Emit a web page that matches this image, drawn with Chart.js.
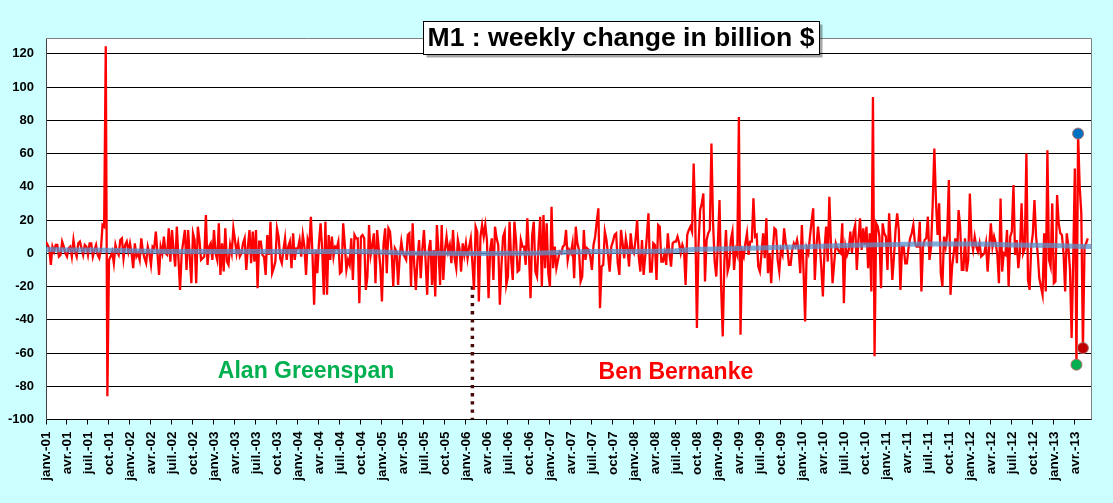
<!DOCTYPE html>
<html><head><meta charset="utf-8">
<script src="https://cdn.jsdelivr.net/npm/chart.js@4.4.1/dist/chart.umd.min.js"></script>
<style>html,body{margin:0;padding:0;background:#CCFFFF;overflow:hidden}canvas{display:block}</style>
</head><body>
<canvas id="c" width="1113" height="503"></canvas>
<script>
// ---- tick labels (one every 13 weeks) ----
const quarterLabels = [
 "janv.-01","avr.-01","juil.-01","oct.-01","janv.-02","avr.-02","juil.-02","oct.-02",
 "janv.-03","avr.-03","juil.-03","oct.-03","janv.-04","avr.-04","juil.-04","oct.-04",
 "janv.-05","avr.-05","juil.-05","oct.-05","janv.-06","avr.-06","juil.-06","oct.-06",
 "janv.-07","avr.-07","juil.-07","oct.-07","janv.-08","avr.-08","juil.-08","oct.-08",
 "janv.-09","avr.-09","juil.-09","oct.-09","janv.-10","avr.-10","juil.-10","oct.-10",
 "janv.-11","avr.-11","juil.-11","oct.-11","janv.-12","avr.-12","juil.-12","oct.-12",
 "janv.-13","avr.-13"];
const yTickValues = [-100,-80,-60,-40,-20,0,20,40,60,80,100,120];

// ---- weekly change of M1, billion $ (one value per week, from janv.-01) ----
const w2001 = [7,5,3,-7,4,1,5,5,-2,-1,7,4,0,-2,3,4,-2,8,1,-2,6,7,3,-1,5,4,-1,6,6,-2,2,5,-1,-3,2,17,16,124.5,-86,-4,-2,1,-6,5,1,-1,8,9,-3,5,7,1];
const w2002 = [6,0,-9,6,-2,0,-4,9,1,-3,-6,4,0,-7,4,3,13,0,-13,4,0,10,0,-1,15,-5,14,2,-8,16,-3,-22,0,7,14,-10,14,-2,-18,12,8,-18,16,8,-4,-3,-2,23,-7,4,6,-4];
const w2003 = [14,0,-4,18,-13,6,-11,15,-5,-7,5,0,15,8,0,6,-2,0,6,9,-10,4,14,-6,13,-5,14,-21,7,7,-1,-2,-13,11,-1,19,-12,-9,-5,15,10,-3,-6,2,9,-4,4,7,-9,12,-4,3];
const w2004 = [3,8,-2,11,4,-13,8,4,22,-1,-31,2,-12,6,18,2,-25,19,-25,11,-4,10,-2,4,3,7,-12,-11,18,5,-10,-4,-7,9,-16,11,9,9,-30,10,11,9,-22,-14,17,-1,5,12,-18,14,3,-8];
const w2005 = [-29,6,15,-12,15,13,1,-20,3,1,-19,-2,7,0,-2,-4,11,12,-20,18,-7,-22,-4,8,-15,2,14,-4,-25,2,8,-19,2,-26,17,2,-19,17,-16,2,10,1,5,-6,14,-3,-9,8,3,-11,6,-1];
const w2006 = [6,-3,4,9,-6,-22,16,13,-29,10,17,10,17,8,-27,2,9,-16,16,9,5,-31,-7,10,13,-19,-14,19,-4,-16,19,8,-11,-10,8,4,4,-7,21,0,-27,11,19,-11,-14,6,22,-20,23,-9,18,-12];
const w2007 = [-20,28,-9,4,-9,-4,1,0,4,5,14,-4,2,0,6,-15,16,6,2,-17,-14,14,-4,3,2,-2,-10,5,10,19,27,-33,-8,-7,13,8,-1,-11,4,7,11,12,-6,-13,14,6,-3,9,3,-8,12,2];
const w2008 = [0,8,20,-2,-11,8,-13,-2,10,24,-11,-11,6,5,-16,17,16,-5,-5,0,-7,12,0,-8,6,7,7,10,6,0,5,2,-19,11,14,16,13,54,19,-45,5,26,30,36,-17,8,12,14,66,18,-5,-14];
const w2009 = [6,32,-20,-50,-5,14,-11,-7,8,13,-10,2,-1,82,-49,1,-2,6,12,-1,7,7,33,10,11,-8,-11,0,12,-3,21,-12,0,-18,2,15,14,-4,-11,2,-1,15,6,3,-7,-7,2,6,4,8,2,-12];
const w2010 = [17,-10,-41,3,0,10,19,27,-16,4,16,6,-8,-26,2,16,-5,34,5,-18,-6,6,3,1,0,18,-30,4,-1,2,13,0,13,17,-10,8,21,2,15,5,16,-9,12,-23,94,-62,18,16,10,-21,18,12];
const w2011 = [10,-10,24,5,-16,-2,14,24,14,-22,4,4,-6,-6,3,9,12,17,6,4,4,19,-23,4,8,9,22,-4,4,30,63,32,11,30,-12,-20,10,4,12,44,-25,-8,0,9,-6,26,16,-10,-10,9,-11,-4];
const w2012 = [36,8,2,10,4,1,6,-2,-1,0,6,-11,4,18,4,10,6,-1,-18,33,-11,0,-1,14,-20,10,13,41,-1,8,-9,1,30,0,3,60,-16,-22,4,12,32,10,0,-15,-20,-25,12,-23,62,-4,-8,30];
const w2013 = [-18,-17,35,18,12,11,0,-23,12,4,-10,-51,-4,51,-67,72,40,24,-57,4,6,9];
const weeklyChange = [].concat(w2001,w2002,w2003,w2004,w2005,w2006,w2007,w2008,w2009,w2010,w2011,w2012,w2013);

// ---- smoothed trend (read every 13 weeks) ----
const trendWeeks = [0,13,26,39,52,65,78,91,104,117,130,143,156,169,182,195,208,221,234,247,260,273,286,299,312,325,338,351,364,377,390,403,416,429,442,455,468,481,494,507,520,533,546,559,572,585,598,611,624,637,647];
const trendValues = [2.2,2.0,2.0,1.8,1.5,1.2,1.0,1.0,1.0,1.0,1.0,1.0,1.0,1.0,1.0,1.0,0.8,0.2,0.0,0.0,-0.2,-0.2,0.0,0.0,0.3,0.8,1.0,1.0,1.0,1.2,1.5,2.4,2.6,2.8,3.2,3.6,3.8,4.2,4.6,5.0,5.2,5.5,5.6,5.6,5.6,5.4,5.0,4.8,4.6,4.2,4.0];

// ---- highlighted last weeks ----
const dotWeeks = [638, 639, 642];
const dotValues = [-67, 72, -57];

// ---- annotations ----
const titleText = "M1 : weekly change in billion $";
const bernankeWeek = 264;
const bernankeLine = [-20, -100];
const eraLabels = ["Alan Greenspan", "Ben Bernanke"];
const eraWeeks = [161, 390];
const eraValues = [-71, -72];

const FONT = "'Liberation Sans', Arial, sans-serif";
Chart.defaults.font.family = FONT;

const bgPlugin = {
  id: 'bg',
  beforeDraw(chart) {
    const c = chart.ctx, a = chart.chartArea;
    c.save();
    c.fillStyle = '#CCFFFF';
    c.fillRect(0, 0, chart.width, chart.height);
    c.fillStyle = '#FFFFFF';
    c.fillRect(a.left, a.top, a.right - a.left, a.bottom - a.top);
    c.restore();
  },
  afterDatasetsDraw(chart) {
    const c = chart.ctx, a = chart.chartArea;
    const xs = chart.scales.x, ys = chart.scales.y;
    c.save();
    c.strokeStyle = '#808080'; c.lineWidth = 1;
    c.beginPath();
    c.moveTo(a.left, Math.round(a.top) + 0.5);
    c.lineTo(Math.round(a.right) + 0.5, Math.round(a.top) + 0.5);
    c.lineTo(Math.round(a.right) + 0.5, a.bottom);
    c.stroke();
    c.font = 'bold 23px ' + FONT;
    c.textAlign = 'center'; c.textBaseline = 'middle';
    const cols = ['#00B050', '#FF0000'];
    eraLabels.forEach((t, i) => {
      c.fillStyle = cols[i];
      c.fillText(t, xs.getPixelForValue(eraWeeks[i]), ys.getPixelForValue(eraValues[i]));
    });
    c.restore();
  },
  afterDraw(chart) {
    const c = chart.ctx;
    c.save();
    const bx = 423.5, by = 21.5, bw = 396, bh = 33;
    c.fillStyle = 'rgba(0,0,0,0.35)';
    c.fillRect(bx + 3, by + 3, bw, bh);
    c.fillStyle = '#FFFFFF';
    c.fillRect(bx, by, bw, bh);
    c.strokeStyle = '#000'; c.lineWidth = 1;
    c.strokeRect(bx, by, bw, bh);
    let size = 26;
    c.font = 'bold ' + size + 'px ' + FONT;
    const w = c.measureText(titleText).width;
    size = size * 387 / w;
    c.font = 'bold ' + size.toFixed(2) + 'px ' + FONT;
    c.fillStyle = '#000';
    c.textAlign = 'left'; c.textBaseline = 'middle';
    c.fillText(titleText, 427.5, by + bh / 2 + 1);
    c.restore();
  }
};

new Chart(document.getElementById('c'), {
  type: 'line',
  data: {
    datasets: [
      {
        label: 'last weeks',
        data: dotWeeks.map((w, i) => ({x: w, y: dotValues[i]})),
        showLine: false,
        pointRadius: 5.5,
        pointBorderWidth: 1,
        pointBackgroundColor: ['#00B050', '#0070C0', '#C00000'],
        pointBorderColor: ['#B07070', '#B07070', '#B07070'],
        order: 0
      },
      {
        label: 'trend',
        data: trendWeeks.map((w, i) => ({x: w, y: trendValues[i]})),
        borderColor: 'rgba(86,146,206,0.75)',
        borderWidth: 5,
        pointRadius: 0,
        tension: 0,
        order: 1
      },
      {
        label: 'M1 weekly change',
        data: weeklyChange.map((v, i) => ({x: i, y: v})),
        borderColor: '#FF0000',
        borderWidth: 2.3,
        pointRadius: 0,
        tension: 0,
        order: 2
      },
      {
        label: 'Bernanke',
        data: bernankeLine.map(v => ({x: bernankeWeek, y: v})),
        borderColor: '#4B0A0A',
        borderWidth: 3.5,
        borderDash: [3.3, 4.9],
        borderCapStyle: 'butt',
        pointRadius: 0,
        order: 3
      }
    ]
  },
  options: {
    responsive: false,
    animation: false,
    devicePixelRatio: 1,
    layout: {padding: {top: 38, right: 22, left: 0, bottom: 0}},
    plugins: {legend: {display: false}, tooltip: {enabled: false}},
    scales: {
      x: {
        type: 'linear',
        min: 0,
        max: 647,
        afterBuildTicks: s => { s.ticks = quarterLabels.map((l, i) => ({value: i * 13})); },
        afterFit: s => { s.height = 83.5; },
        ticks: {
          autoSkip: false,
          minRotation: 90, maxRotation: 90,
          padding: 7,
          color: '#000',
          font: {size: 13.5, weight: 'bold'},
          callback: (v, i) => quarterLabels[i]
        },
        grid: {drawOnChartArea: false, drawTicks: true, tickLength: 5, color: '#000'},
        border: {display: true, color: '#000'}
      },
      y: {
        min: -100,
        max: 129.5,
        afterBuildTicks: s => { s.ticks = yTickValues.map(v => ({value: v})); },
        afterFit: s => { s.width = 46; },
        ticks: {
          padding: 12,
          color: '#000',
          font: {size: 13, weight: 'bold'}
        },
        grid: {color: '#000', drawTicks: false, lineWidth: 1},
        border: {display: true, color: '#404040'}
      }
    }
  },
  plugins: [bgPlugin]
});
</script>
</body></html>
